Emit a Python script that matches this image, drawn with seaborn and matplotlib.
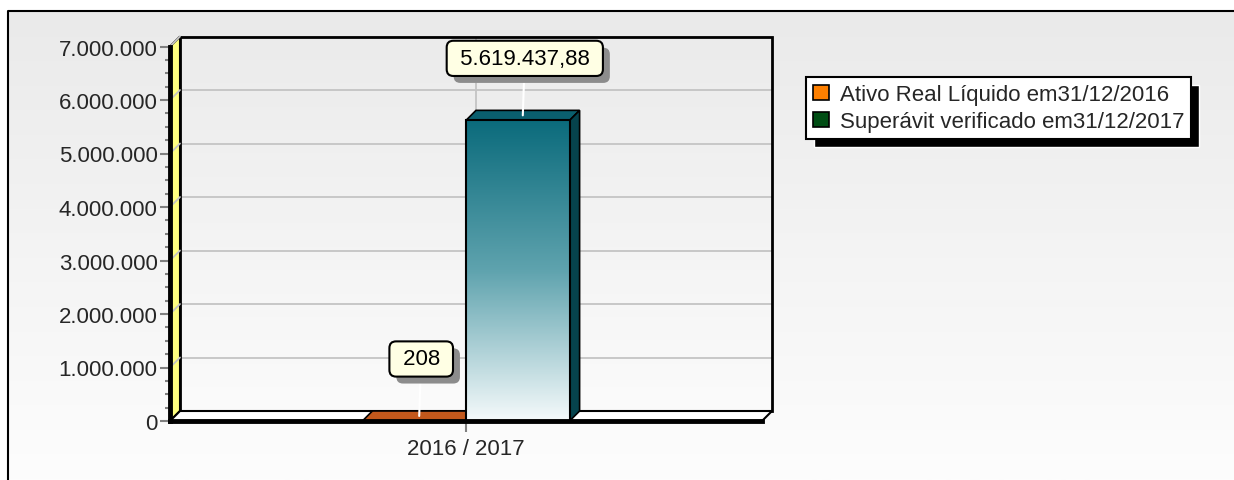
import numpy as np
import pandas as pd
import matplotlib
matplotlib.use("Agg")
import matplotlib.pyplot as plt
import seaborn as sns
from matplotlib.patches import Polygon, Rectangle, Patch
from matplotlib.colors import LinearSegmentedColormap
from matplotlib.ticker import MultipleLocator
import matplotlib.patheffects as pe

# data
categories = ["2016 / 2017", "2016 / 2017"]
series = ["Ativo Real Líquido em31/12/2016", "Superávit verificado em31/12/2017"]
values = [208, 5619437.88]
value_labels = ["208", "5.619.437,88"]
yticks = [0, 1000000, 2000000, 3000000, 4000000, 5000000, 6000000, 7000000]
ytick_labels = ["0", "1.000.000", "2.000.000", "3.000.000", "4.000.000",
                "5.000.000", "6.000.000", "7.000.000"]

sns.set_style("white")
plt.rcParams["font.family"] = ["Liberation Sans", "DejaVu Sans"]

W, H = 1234, 481
DX, DY = 10, 10  # depth of the 3d look, pixels

fig = plt.figure(figsize=(W / 100, H / 100), dpi=100)

# page background + frame
bg = fig.add_axes([0, 0, 1, 1], zorder=-10)
bg.imshow(np.linspace(0, 1, 256).reshape(-1, 1), aspect="auto",
          cmap=LinearSegmentedColormap.from_list("bg", ["#eaeaea", "#fdfdfd"]),
          extent=[8 / W, 1, 0, 1 - 12 / H])
bg.plot([8 / W, 8 / W, 1], [0, 1 - 12 / H, 1 - 12 / H], color="black", lw=1.5)
bg.set_xlim(0, 1)
bg.set_ylim(0, 1)
bg.axis("off")

ax = fig.add_axes([170 / W, 59 / H, 592 / W, 374.5 / H])
ax.set_facecolor("none")

df = pd.DataFrame({"periodo": categories, "valor": values, "serie": series})
sns.barplot(data=df, x="periodo", y="valor", hue="serie",
            palette=["#c2581c", "#0b6b7c"], width=0.35, ax=ax, legend=False,
            edgecolor="black", linewidth=1.2, zorder=3)
bars = list(ax.patches)

ax.set_xlim(-0.5, 0.5)
ax.set_ylim(0, 7000000)
xlo, xhi = ax.get_xlim()
ylo, yhi = ax.get_ylim()


def shifted(x, y, f=1.0):
    pts = ax.transData.transform(np.column_stack([np.atleast_1d(x), np.atleast_1d(y)]))
    pts += [DX * f, DY * f]
    return ax.transData.inverted().transform(pts)


def face(pts, **kw):
    ax.add_patch(Polygon(pts, closed=True, clip_on=False, **kw))


# back wall
(bx0, by0), = shifted(xlo, ylo)
(bx1, by1), = shifted(xhi, yhi)
ax.imshow(np.linspace(0, 1, 256).reshape(-1, 1), aspect="auto",
          cmap=LinearSegmentedColormap.from_list("wall", ["#ebebeb", "#fbfbfb"]),
          extent=[bx0, bx1, by0, by1], zorder=0, clip_on=False)
ax.add_patch(Rectangle((bx0, by0), bx1 - bx0, by1 - by0, fill=False,
                       edgecolor="black", lw=2, clip_on=False, zorder=1))

# grid on back wall and left wall
for yv in yticks[1:]:
    p = shifted([xlo, xhi], [yv, yv])
    ax.plot(p[:, 0], p[:, 1], color="#c4c4c4", lw=1.3, zorder=0.5, clip_on=False)
    q = np.vstack([[xlo, yv], shifted(xlo, yv)])
    ax.plot(q[:, 0], q[:, 1], color="#c4c4c4", lw=1.3, zorder=1.5, clip_on=False)
v = shifted([0, 0], [ylo, yhi])
ax.plot(v[:, 0], v[:, 1], color="#c4c4c4", lw=1.3, zorder=0.5, clip_on=False)

# left wall and floor
face(np.vstack([[xlo, ylo], [xlo, yhi], shifted(xlo, yhi), shifted(xlo, ylo)]),
     facecolor="#ffff80", edgecolor="black", lw=1.5, zorder=1.2)
face(np.vstack([[xlo, ylo], [xhi, ylo], shifted(xhi, ylo), shifted(xlo, ylo)]),
     facecolor="white", edgecolor="black", lw=1.5, zorder=1.2)

# bars: gradient front, top and side faces
top_cols = ["#c2581c", "#0a5f6e"]
side_cols = ["#8a3a10", "#06434d"]
for p, tc, sc in zip(bars, top_cols, side_cols):
    x0, w, h = p.get_x(), p.get_width(), p.get_height()
    face(np.vstack([[x0, h], [x0 + w, h], shifted(x0 + w, h), shifted(x0, h)]),
         facecolor=tc, edgecolor="black", lw=1.2, zorder=2.5)
    face(np.vstack([[x0 + w, 0], [x0 + w, h], shifted(x0 + w, h), shifted(x0 + w, 0)]),
         facecolor=sc, edgecolor="black", lw=1.2, zorder=2.5)

teal = bars[1]
x0, w, h = teal.get_x(), teal.get_width(), teal.get_height()
teal.set_facecolor("none")
teal.set_linewidth(1.5)
im = ax.imshow(np.linspace(0, 1, 256).reshape(-1, 1), aspect="auto",
               cmap=LinearSegmentedColormap.from_list("teal", ["#0b6b7c", "#5fa3ae", "#f5fafb"]),
               extent=[x0, x0 + w, 0, h], zorder=2.8)
im.set_clip_path(teal)

# value labels with grey box shadow
for p, lab in zip(bars, value_labels):
    (cx, cy), = shifted(p.get_x() + p.get_width() / 2, p.get_height(), 0.5)
    ann = ax.annotate(" " + lab + " ", xy=(cx, cy), xytext=(2, 57), textcoords="offset pixels",
                      ha="center", va="center", fontsize=16, color="black", zorder=5,
                      bbox=dict(boxstyle="round,pad=0.32,rounding_size=0.3",
                                facecolor="#ffffe4", edgecolor="black", lw=1.5),
                      arrowprops=dict(arrowstyle="-", color="white", lw=1.5,
                                      shrinkA=0, shrinkB=0))
    ann.get_bbox_patch().set_path_effects([
        pe.SimplePatchShadow(offset=(5, -5), shadow_rgbFace="#8c8c8c", alpha=1),
        pe.Normal()])

# axes and ticks
ax.set_xlim(xlo, xhi)
ax.set_ylim(ylo, yhi)
ax.set_yticks(yticks)
ax.set_yticklabels(ytick_labels)
ax.yaxis.set_minor_locator(MultipleLocator(250000))
ax.set_xlabel("")
ax.set_ylabel("")
ax.tick_params(axis="y", which="major", length=7, width=1.5, color="#808080",
               labelsize=16, pad=2, left=True)
ax.tick_params(axis="y", which="minor", length=3.5, width=1.5, color="#808080", left=True)
ax.tick_params(axis="x", length=8, width=1.5, color="#808080", labelsize=16, pad=4,
               bottom=True)
for s in ["top", "right"]:
    ax.spines[s].set_visible(False)
for s in ["left", "bottom"]:
    ax.spines[s].set_linewidth(3.5)
    ax.spines[s].set_color("black")
    ax.spines[s].set_zorder(3.5)

# legend with black shadow
handles = [Patch(facecolor="#ff8000", edgecolor="black", lw=1.2),
           Patch(facecolor="#004d14", edgecolor="black", lw=1.2)]
leg = fig.legend(handles, series, loc="upper left",
                 bbox_to_anchor=(806 / W, 1 - 78 / H), fontsize=16,
                 frameon=True, fancybox=False, framealpha=1, edgecolor="black",
                 handlelength=0.7, handleheight=0.7, handletextpad=0.5,
                 labelspacing=0.28, borderpad=0.32, borderaxespad=0)
leg.get_frame().set_linewidth(1.5)
leg.set_zorder(6)

fig.canvas.draw()
bb = leg.get_window_extent()
fig.patches.append(Rectangle(((bb.x0 + 8) / W, (bb.y0 - 8) / H), bb.width / W, bb.height / H,
                             transform=fig.transFigure, facecolor="black", zorder=5))

fig.savefig("out.png", dpi=100)
